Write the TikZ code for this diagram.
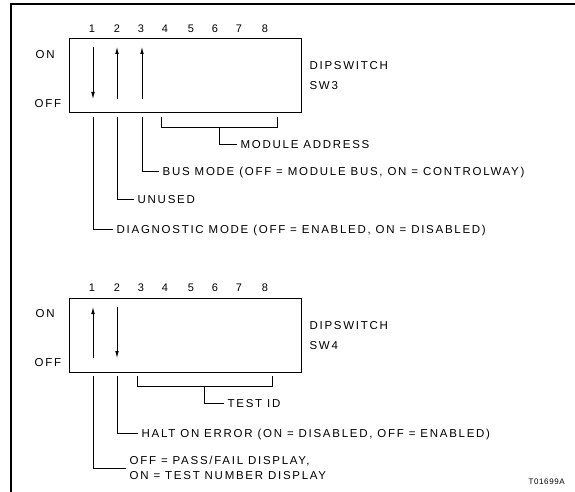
\documentclass[tikz,border=0pt]{standalone}
\usepackage{fontspec}
\usetikzlibrary{arrows.meta,positioning}
\newfontfamily\lblfont[LetterSpace=15]{Liberation Sans}
\newfontfamily\tagfont[LetterSpace=8]{Liberation Sans}
\tikzset{
  lbl/.style={
    font=\lblfont\fontsize{11.5}{15}\selectfont,
    inner sep=0pt,
    inner xsep=3.5pt,
    text height=8.2pt,
    text depth=0pt,
    anchor=west,
    align=left
  },
  lbltwo/.style={
    lbl,
    text height=,
    text depth=
  },
  num/.style={
    font=\lblfont\fontsize{11}{13}\selectfont,
    inner sep=0pt
  },
  dipbox/.style={
    draw,
    line width=0.9pt,
    inner sep=0pt,
    anchor=north west,
    minimum width=232pt,
    minimum height=74pt
  },
  swarrow/.style={
    -{Latex[length=7pt,width=3.6pt]},
    line width=0.8pt
  },
  leader/.style={
    line width=0.7pt
  }
}

\begin{document}
\begin{tikzpicture}[x=1pt,y=-1pt]
\useasboundingbox (0,0) rectangle (575,492);
\draw[line width=1.2pt] (11,492) -- (11,4) -- (575,4);

% SW3
\node[dipbox] (sw3) at (69,38) {};
\node[num] (a1) at (92,29) {1};
\node[num] (a2) at (117,29) {2};
\node[num] (a3) at (141,29) {3};
\node[num] (a4) at (165,29) {4};
\node[num] (a5) at (191,29) {5};
\node[num] (a6) at (215,29) {6};
\node[num] (a7) at (239,29) {7};
\node[num] (a8) at (265,29) {8};
\node[lbl] (aon) at (32,54) {ON};
\node[lbl] (aoff) at (31,103) {OFF};
\node[lbltwo, right=4pt of sw3.east] (aname) {DIPSWITCH\\[5pt]SW3};

\coordinate (a1top) at (93,47);
\coordinate (a1bot) at (93,99);
\coordinate (a2top) at (117,47);
\coordinate (a2bot) at (117,99);
\coordinate (a3top) at (142,47);
\coordinate (a3bot) at (142,99);
\draw[swarrow] (a1top) -- (a1bot);
\draw[swarrow] (a2bot) -- (a2top);
\draw[swarrow] (a3bot) -- (a3top);

\coordinate (a1lead) at (93,117);
\coordinate (a2lead) at (117,117);
\coordinate (a3lead) at (142,117);
\coordinate (abrl) at (161,117);
\coordinate (abrr) at (277,117);
\coordinate (abrm) at (219,127);

\node[lbl] (addr) at (237,144) {MODULE ADDRESS};
\node[lbl] (bus) at (159,171) {BUS MODE (OFF = MODULE BUS, ON = CONTROLWAY)};
\node[lbl] (unused) at (134,199) {UNUSED};
\node[lbl] (diag) at (113,229) {DIAGNOSTIC MODE (OFF = ENABLED, ON = DISABLED)};

\draw[leader] (abrl) -- ++(0,10) -| (abrr);
\draw[leader] (abrm) |- (addr.west);
\draw[leader] (a3lead) |- (bus.west);
\draw[leader] (a2lead) |- (unused.west);
\draw[leader] (a1lead) |- (diag.west);

% SW4
\node[dipbox] (sw4) at (69,298) {};
\node[num] (b1) at (92,288) {1};
\node[num] (b2) at (117,288) {2};
\node[num] (b3) at (141,288) {3};
\node[num] (b4) at (165,288) {4};
\node[num] (b5) at (191,288) {5};
\node[num] (b6) at (215,288) {6};
\node[num] (b7) at (239,288) {7};
\node[num] (b8) at (265,288) {8};
\node[lbl] (bon) at (32,313) {ON};
\node[lbl] (boff) at (31,362) {OFF};
\node[lbltwo, right=4pt of sw4.east] (bname) {DIPSWITCH\\[5pt]SW4};

\coordinate (b1top) at (93,307);
\coordinate (b1bot) at (93,358);
\coordinate (b2top) at (117,307);
\coordinate (b2bot) at (117,358);
\draw[swarrow] (b1bot) -- (b1top);
\draw[swarrow] (b2top) -- (b2bot);

\coordinate (b1lead) at (93,376);
\coordinate (b2lead) at (117,376);
\coordinate (bbrl) at (137,376);
\coordinate (bbrr) at (272,376);
\coordinate (bbrm) at (204,386);

\node[lbl] (testid) at (224,403) {TEST ID};
\node[lbl] (halt) at (138,433) {HALT ON ERROR (ON = DISABLED, OFF = ENABLED)};
\node[lbltwo] (disp) at (126,468) {OFF = PASS/FAIL DISPLAY,\\ON = TEST NUMBER DISPLAY};

\draw[leader] (bbrl) -- ++(0,10) -| (bbrr);
\draw[leader] (bbrm) |- (testid.west);
\draw[leader] (b2lead) |- (halt.west);
\draw[leader] (b1lead) |- (disp.west);

\node[font=\tagfont\fontsize{8}{10}\selectfont, inner sep=0pt, anchor=east] (tag) at (565,482) {T01699A};
\end{tikzpicture}
\end{document}
